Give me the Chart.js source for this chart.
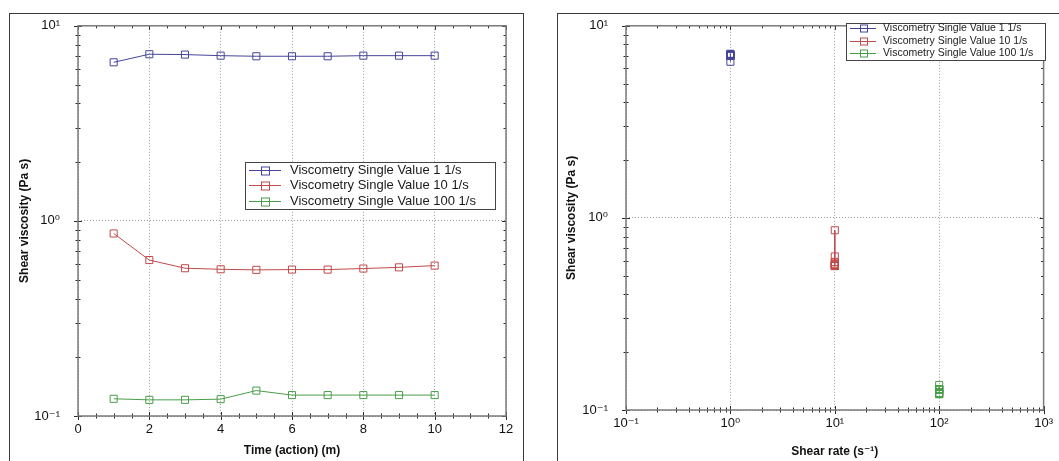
<!DOCTYPE html>
<html>
<head>
<meta charset="utf-8">
<script src="https://cdn.jsdelivr.net/npm/chart.js@4.4.1/dist/chart.umd.min.js"></script>
<style>
  body { margin: 0; background: #fff; width: 1059px; height: 461px; overflow: hidden; position: relative; }
  .panel { position: absolute; border: 1px solid #3a3a3a; border-bottom: none; }
  canvas { position: absolute; top: 0; }
</style>
</head>
<body>
<div class="panel" style="left:9px;top:13px;width:513px;height:460px"></div>
<div class="panel" style="left:557px;top:13px;width:600px;height:460px"></div>
<canvas id="timeChart" width="530" height="461" style="left:0"></canvas>
<canvas id="rateChart" width="529" height="461" style="left:530px"></canvas>
<script>
// data
const times = [1, 2, 3, 4, 5, 6, 7, 8, 9, 10];
const rates = [1, 10, 100];
const seriesLabels = ['Viscometry Single Value 1 1/s', 'Viscometry Single Value 10 1/s', 'Viscometry Single Value 100 1/s'];
const seriesColors = ['#45459a', '#c24a4a', '#4a9e4a'];
const visc1 = [6.5, 7.15, 7.12, 7.03, 6.98, 6.98, 6.98, 7.03, 7.03, 7.03];
const visc10 = [0.862, 0.63, 0.572, 0.565, 0.561, 0.563, 0.563, 0.570, 0.578, 0.590];
const visc100 = [0.1225, 0.121, 0.121, 0.122, 0.135, 0.128, 0.128, 0.128, 0.128, 0.128];
const viscTickValues = [0.1, 1, 10];
const viscTickLabels = ['10⁻¹', '10⁰', '10¹'];
const rateTickValues = [0.1, 1, 10, 100, 1000];
const rateTickLabels = ['10⁻¹', '10⁰', '10¹', '10²', '10³'];

const allVisc = [visc1, visc10, visc100];

Chart.defaults.font.family = "'Liberation Sans', Arial, 'DejaVu Sans', sans-serif";
Chart.defaults.color = '#111';

// minor tick positions for a scale
function tickValues(scale, minorStep, majorStep) {
  const out = [];
  if (scale.type === 'logarithmic') {
    const lo = Math.round(Math.log10(scale.min)), hi = Math.round(Math.log10(scale.max));
    for (let d = lo; d < hi; d++) {
      for (let k = 1; k <= 9; k++) out.push({ v: k * Math.pow(10, d), major: k === 1 });
    }
    out.push({ v: scale.max, major: true });
  } else {
    for (let v = scale.min; v <= scale.max + 1e-9; v += minorStep) {
      out.push({ v: v, major: Math.abs(v / majorStep - Math.round(v / majorStep)) < 1e-6 });
    }
  }
  return out;
}

// plot frame + inward/crossing ticks
const frameTicks = {
  id: 'frameTicks',
  afterDraw(chart, args, opts) {
    const { ctx, chartArea: a } = chart;
    const xs = chart.scales.x, ys = chart.scales.y;
    ctx.save();
    ctx.strokeStyle = '#2a2a2a';
    ctx.lineWidth = 1;
    ctx.beginPath();
    tickValues(xs, opts.xMinor, opts.xMajor).forEach(t => {
      const px = Math.round(xs.getPixelForValue(t.v)) + 0.5;
      const len = t.major ? 4 : 2.5;
      ctx.moveTo(px, a.bottom - len); ctx.lineTo(px, a.bottom + len);
      ctx.moveTo(px, a.top); ctx.lineTo(px, a.top + len);
    });
    tickValues(ys, 0, 1).forEach(t => {
      const py = Math.round(ys.getPixelForValue(t.v)) + 0.5;
      const len = t.major ? 4 : 2.5;
      ctx.moveTo(a.left - len, py); ctx.lineTo(a.left + len, py);
      ctx.moveTo(a.right - len, py); ctx.lineTo(a.right, py);
    });
    ctx.stroke();
    ctx.strokeStyle = '#7a7a7a';
    ctx.lineWidth = 1.5;
    ctx.strokeRect(a.left, a.top, a.right - a.left, a.bottom - a.top);
    ctx.restore();
  }
};

// boxed legend inside the plot
const boxLegend = {
  id: 'boxLegend',
  afterDraw(chart, args, o) {
    const ctx = chart.ctx;
    ctx.save();
    ctx.fillStyle = '#fff';
    ctx.fillRect(o.x, o.y, o.w, o.h);
    ctx.strokeStyle = '#444';
    ctx.lineWidth = 1;
    ctx.strokeRect(o.x + 0.5, o.y + 0.5, o.w, o.h);
    ctx.font = o.fontSize + "px 'Liberation Sans', Arial, sans-serif";
    ctx.textBaseline = 'middle';
    chart.data.datasets.forEach((ds, i) => {
      const y = Math.round(o.y + o.first + i * o.rowH) + 0.5;
      ctx.strokeStyle = ds.borderColor;
      ctx.beginPath();
      ctx.moveTo(o.lineX0, y); ctx.lineTo(o.lineX1, y);
      ctx.stroke();
      const s = o.box / 2;
      ctx.strokeRect(Math.round(o.markX - s) + 0.5, Math.round(y - s), o.box, o.box);
      ctx.fillStyle = '#1a1a1a';
      ctx.fillText(ds.label, o.textX, y);
    });
    ctx.restore();
  }
};

function makeDatasets(xFor) {
  return allVisc.map((vals, i) => ({
    label: seriesLabels[i],
    data: vals.map((v, j) => ({ x: xFor(i, j), y: v })),
    borderColor: seriesColors[i],
    backgroundColor: 'rgba(0,0,0,0)',
    pointBackgroundColor: 'rgba(0,0,0,0)',
    pointBorderColor: seriesColors[i],
    borderWidth: 1,
    pointBorderWidth: 1,
    pointStyle: 'rect',
    pointRadius: 5,
    tension: 0,
    fill: false
  }));
}

const gridStyle = { color: '#9a9a9a', lineWidth: 1, drawTicks: false };
const noBorder = { display: false, dash: [1, 2] };

const viscAxis = (titlePad, tickPad) => ({
  type: 'logarithmic',
  min: 0.1,
  max: 10,
  afterBuildTicks: s => { s.ticks = viscTickValues.map(v => ({ value: v })); },
  afterFit: s => { s.width = titlePad.w; },
  ticks: {
    padding: tickPad,
    autoSkip: false,
    font: { size: 13 },
    callback: v => viscTickLabels[viscTickValues.indexOf(v)]
  },
  grid: gridStyle,
  border: noBorder,
  title: {
    display: true,
    text: 'Shear viscosity (Pa s)',
    font: { size: 12, weight: 'bold' },
    padding: { top: titlePad.top, bottom: 0 }
  }
});

new Chart(document.getElementById('timeChart'), {
  type: 'line',
  data: { datasets: makeDatasets((i, j) => times[j]) },
  options: {
    responsive: false,
    animation: false,
    events: [],
    layout: { padding: { left: 0, top: 23, right: 24, bottom: 0 } },
    scales: {
      x: {
        type: 'linear',
        min: 0,
        max: 12,
        afterFit: s => { s.height = 45; },
        ticks: { stepSize: 2, padding: 6, font: { size: 13 }, maxRotation: 0 },
        grid: gridStyle,
        border: noBorder,
        title: { display: true, text: 'Time (action) (m)', font: { size: 12, weight: 'bold' }, padding: { top: 0, bottom: 3 } }
      },
      y: viscAxis({ w: 78, top: 17 }, 18)
    },
    plugins: {
      legend: { display: false },
      tooltip: { enabled: false },
      frameTicks: { xMinor: 0.5, xMajor: 2 },
      boxLegend: { x: 245, y: 162, w: 250, h: 47, first: 7.5, rowH: 15.5, fontSize: 13,
        lineX0: 249, lineX1: 281, markX: 265, box: 8, textX: 290 }
    }
  },
  plugins: [frameTicks, boxLegend]
});

new Chart(document.getElementById('rateChart'), {
  type: 'line',
  data: { datasets: makeDatasets((i, j) => rates[i]) },
  options: {
    responsive: false,
    animation: false,
    events: [],
    layout: { padding: { left: 0, top: 23, right: 13, bottom: 0 } },
    scales: {
      x: {
        type: 'logarithmic',
        min: 0.1,
        max: 1000,
        afterBuildTicks: s => { s.ticks = rateTickValues.map(v => ({ value: v })); },
        afterFit: s => { s.height = 51; },
        ticks: {
          padding: 6,
          autoSkip: false,
          maxRotation: 0,
          font: { size: 13 },
          callback: v => rateTickLabels[rateTickValues.indexOf(v)]
        },
        grid: gridStyle,
        border: noBorder,
        title: { display: true, text: 'Shear rate (s⁻¹)', font: { size: 12, weight: 'bold' }, padding: { top: 0, bottom: 2 } }
      },
      y: viscAxis({ w: 96, top: 34 }, 18)
    },
    plugins: {
      legend: { display: false },
      tooltip: { enabled: false },
      frameTicks: {},
      boxLegend: { x: 316, y: 23, w: 199, h: 37, first: 4.8, rowH: 12.7, fontSize: 10.5,
        lineX0: 320, lineX1: 346, markX: 333, box: 7, textX: 353 }
    }
  },
  plugins: [frameTicks, boxLegend]
});
</script>
</body>
</html>
